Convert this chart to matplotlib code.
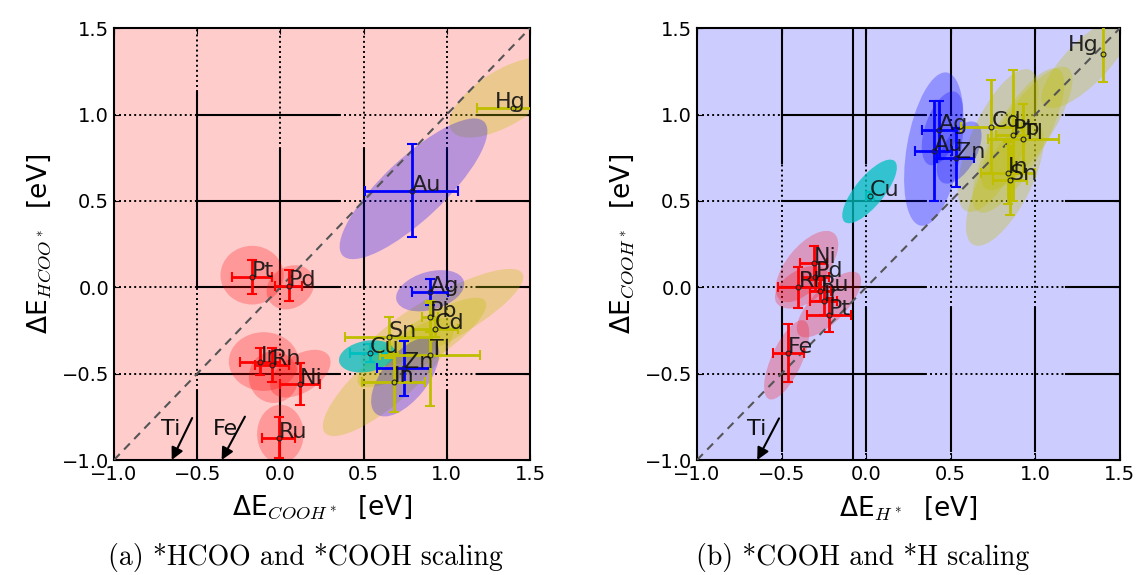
import matplotlib
matplotlib.use("Agg")
import matplotlib.pyplot as plt
from matplotlib.patches import Ellipse
import numpy as np

# ---- data: panel (a)  x = dE_COOH*, y = dE_HCOO*
a_names = ["Au", "Ag", "Zn", "Cu", "Hg", "Pb", "Cd", "Sn", "Tl", "In",
           "Pt", "Pd", "Ir", "Rh", "Ni", "Ru"]
a_x = [0.79, 0.90, 0.74, 0.54, 1.40, 0.90, 0.93, 0.65, 0.90, 0.68,
       -0.17, 0.05, -0.12, -0.05, 0.12, -0.01]
a_y = [0.56, -0.03, -0.47, -0.38, 1.04, -0.17, -0.24, -0.29, -0.39, -0.55,
       0.06, 0.01, -0.43, -0.45, -0.56, -0.87]
a_xerr = [0.28, 0.11, 0.16, 0.12, 0.22, 0.05, 0.14, 0.26, 0.30, 0.19,
          0.12, 0.08, 0.12, 0.10, 0.12, 0.10]
a_yerr = [0.27, 0.075, 0.16, 0.05, 0.0, 0.09, 0.05, 0.12, 0.30, 0.17,
          0.10, 0.09, 0.08, 0.10, 0.12, 0.12]
a_group = ["b", "b", "b", "c", "y", "y", "y", "y", "y", "y",
           "r", "r", "r", "r", "r", "r"]
a_off_names = ["Ti", "Fe"]
a_off_tail = [(-0.53, -0.757), (-0.213, -0.749)]
a_off_head = [(-0.653, -1.0), (-0.353, -1.0)]

# ---- data: panel (b)  x = dE_H*, y = dE_COOH*
b_names = ["Au", "Ag", "Zn", "Cu", "Hg", "Cd", "Pb", "Tl", "In", "Sn",
           "Ni", "Pd", "Rh", "Ru", "Ir", "Pt", "Fe"]
b_x = [0.40, 0.43, 0.53, 0.02, 1.40, 0.74, 0.87, 0.93, 0.84, 0.85,
       -0.31, -0.30, -0.40, -0.27, -0.25, -0.22, -0.46]
b_y = [0.79, 0.91, 0.75, 0.53, 1.35, 0.93, 0.88, 0.86, 0.66, 0.62,
       0.14, 0.06, 0.0, -0.02, -0.08, -0.16, -0.38]
b_xerr = [0.11, 0.10, 0.11, 0.02, 0.0, 0.18, 0.10, 0.21, 0.16, 0.10,
          0.08, 0.08, 0.12, 0.06, 0.08, 0.13, 0.09]
b_yerr = [0.29, 0.17, 0.17, 0.02, 0.16, 0.27, 0.38, 0.20, 0.18, 0.20,
          0.10, 0.08, 0.12, 0.06, 0.08, 0.10, 0.17]
b_group = ["b", "b", "b", "c", "y", "y", "y", "y", "y", "y",
           "r", "r", "r", "r", "r", "r", "r"]
b_off_names = ["Ti"]
b_off_tail = [(-0.515, -0.759)]
b_off_head = [(-0.644, -1.0)]

# label shifts for points sitting at the plot edge
label_shift = {"Hg": (-0.11, 0.0)}
label_shift_b = {"Hg": (-0.21, 0.02)}

# spread ellipses: cx, cy, width, height, angle, group
a_ell = [
    (1.35, 1.10, 0.75, 0.32, 30, "y"),
    (0.80, 0.57, 1.15, 0.36, 42, "b"),
    (0.65, -0.52, 1.00, 0.30, 40, "y"),
    (0.97, -0.18, 1.10, 0.28, 28, "y"),
    (0.85, -0.32, 0.90, 0.24, 32, "y"),
    (0.90, -0.02, 0.42, 0.22, 15, "b"),
    (0.75, -0.52, 0.55, 0.27, 50, "b"),
    (0.52, -0.40, 0.34, 0.18, 10, "c"),
    (-0.17, 0.07, 0.38, 0.34, 0, "r"),
    (0.06, 0.00, 0.30, 0.24, 30, "r"),
    (-0.10, -0.43, 0.42, 0.34, 0, "r"),
    (-0.04, -0.52, 0.30, 0.30, 0, "r"),
    (0.12, -0.50, 0.40, 0.22, 30, "r"),
    (0.00, -0.85, 0.28, 0.34, 0, "r"),
]
b_ell = [
    (1.30, 1.30, 0.70, 0.25, 45, "y"),
    (0.78, 0.85, 0.90, 0.32, 65, "y"),
    (0.90, 0.85, 0.95, 0.30, 60, "y"),
    (0.95, 0.92, 0.85, 0.28, 55, "y"),
    (0.82, 0.60, 0.80, 0.30, 62, "y"),
    (0.40, 0.80, 0.90, 0.32, 80, "b"),
    (0.45, 0.92, 0.45, 0.20, 70, "b"),
    (0.55, 0.78, 0.40, 0.20, 60, "b"),
    (0.02, 0.555, 0.46, 0.17, 50, "c"),
    (-0.35, 0.12, 0.50, 0.24, 50, "r"),
    (-0.38, 0.00, 0.35, 0.20, 30, "r"),
    (-0.22, -0.10, 0.50, 0.20, 45, "r"),
    (-0.47, -0.42, 0.50, 0.18, 65, "r"),
]

COLORS = {"r": "#ff0000", "b": "#0000ff", "y": "#bfbf00", "c": "#00bfbf"}
ALPHA = {"r": 0.25, "b": 0.28, "y": 0.3, "c": 0.75}
TICKS = [-1.0, -0.5, 0.0, 0.5, 1.0, 1.5]
GRID = [-0.5, 0.0, 0.5, 1.0]


def seg(ax, xs, ys, dotted):
    if dotted:
        ax.plot(xs, ys, color="k", lw=1.4, ls=(0, (1, 1.6)), zorder=1)
    else:
        ax.plot(xs, ys, color="k", lw=1.5, zorder=1)


def draw_grid(ax, vert_runs):
    h_runs = [(-1.0, -0.5, True), (-0.5, 0.35, False), (0.35, 1.18, True), (1.18, 1.5, False)]
    for g in GRID:
        for a, b, d in h_runs:
            seg(ax, [a, b], [g, g], d)
    for g in GRID:
        for a, b, d in vert_runs(g):
            seg(ax, [g, g], [a, b], d)


def draw_panel(ax, names, xs, ys, xerr, yerr, groups, ells, off_names, tails, heads,
               shifts, face):
    ax.set_facecolor(face)
    for cx, cy, w, h, ang, g in ells:
        ax.add_patch(Ellipse((cx, cy), w, h, angle=ang, facecolor=COLORS[g],
                             alpha=ALPHA[g], edgecolor="none", zorder=2))
    ax.plot([-1, 1.5], [-1, 1.5], color="#555555", lw=1.5, ls=(0, (4, 3)), zorder=3)
    for i, n in enumerate(names):
        ax.errorbar(xs[i], ys[i], xerr=xerr[i], yerr=yerr[i], fmt="none",
                    ecolor=COLORS[groups[i]], elinewidth=2, capsize=3.5, capthick=1.5,
                    zorder=4)
        ax.plot(xs[i], ys[i], "o", ms=3.5, mfc="none", mec="#222222", mew=0.8, zorder=5)
        dx, dy = shifts.get(n, (0.0, 0.0))
        ax.text(xs[i] + dx, ys[i] + dy, n, fontsize=16, color="#111111",
                ha="left", va="baseline", zorder=6, alpha=0.9)
    for n, t, h in zip(off_names, tails, heads):
        ax.annotate("", xy=h, xytext=t,
                    arrowprops=dict(arrowstyle="-|>", color="k", lw=1.5,
                                    mutation_scale=18, shrinkA=0, shrinkB=0),
                    zorder=6, annotation_clip=False)
        ax.text(t[0] - 0.19, -0.855, n, fontsize=16, color="#111111", zorder=6)
    ax.set_xlim(-1.0, 1.5)
    ax.set_ylim(-1.0, 1.5)
    ax.set_xticks(TICKS)
    ax.set_yticks(TICKS)
    ax.tick_params(labelsize=14, direction="in", top=True, right=True, length=4)
    for s in ax.spines.values():
        s.set_linewidth(1.5)


plt.rcParams["font.family"] = ["DejaVu Sans"]
fig = plt.figure(figsize=(11.43, 5.75), dpi=100)
ax1 = fig.add_axes([0.0997, 0.200, 0.364, 0.751])
ax2 = fig.add_axes([0.6098, 0.200, 0.370, 0.751])

draw_grid(ax1, lambda g: [(0.8 if g != -0.5 else 1.13, 1.5, True),
                          (0.0, 0.8 if g != -0.5 else 1.13, False),
                          (-0.6, 0.0, True), (-1.0, -0.6, False)])
upper = {-0.5: 0.72, 0.0: 0.72, 0.5: 1.0, 1.0: 1.0}
draw_grid(ax2, lambda g: [(upper[g], 1.5, False), (-0.12, upper[g], True),
                          (-0.95, -0.12, False), (-1.0, -0.95, True)])
ax2.plot([-0.08, -0.08], [-1.0, 1.5], color="k", lw=1.5, zorder=1)

draw_panel(ax1, a_names, a_x, a_y, a_xerr, a_yerr, a_group, a_ell,
           a_off_names, a_off_tail, a_off_head, label_shift, "#ffcccc")
draw_panel(ax2, b_names, b_x, b_y, b_xerr, b_yerr, b_group, b_ell,
           b_off_names, b_off_tail, b_off_head, label_shift_b, "#ccccff")

lab = dict(fontsize=19, math_fontfamily="cm")
ax1.set_xlabel(r"ΔE$_{COOH^*}$  [eV]", labelpad=7, **lab)
ax1.set_ylabel(r"ΔE$_{HCOO^*}$  [eV]", labelpad=6, **lab)
ax2.set_xlabel(r"ΔE$_{H^*}$  [eV]", labelpad=7, **lab)
ax2.set_ylabel(r"ΔE$_{COOH^*}$  [eV]", labelpad=6, **lab)

fig.text(0.267, 0.018, "(a) *HCOO and *COOH scaling", family="cmr10",
         fontsize=20, ha="center", va="baseline")
fig.text(0.755, 0.018, "(b) *COOH and *H scaling", family="cmr10",
         fontsize=20, ha="center", va="baseline")

fig.savefig("out.png", dpi=100)
